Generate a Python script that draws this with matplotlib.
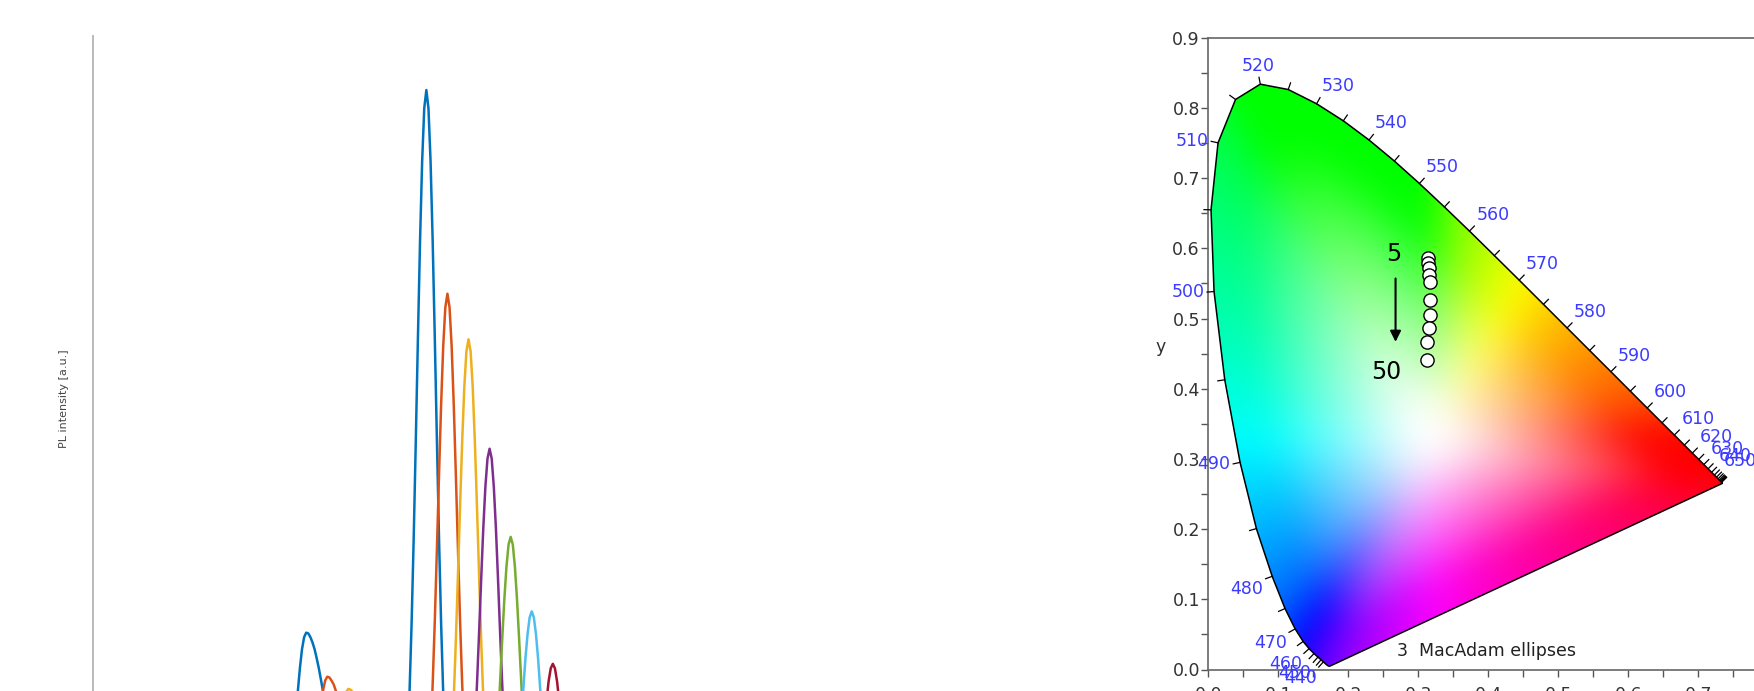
import numpy as np
import matplotlib
matplotlib.use("Agg")
import matplotlib.pyplot as plt
from matplotlib.patches import Polygon
from matplotlib.ticker import MultipleLocator, FormatStrFormatter

# ---------------------------------------------------------------- PL spectra
# every spectrum is sampled at 1 nm around its two emission bands:
# a weak band (19 samples) and the main band (21 samples)
pl_colors = ["#0072BD", "#D95319", "#EDB120", "#7E2F8E",
             "#77AC30", "#4DBEEE", "#A2142F"]
weak_start_nm = [456, 466, 476, 486, 496, 506, 516]
main_start_nm = [509, 519, 529, 539, 549, 559, 569]

weak_band = [
    [0.139, 0.174, 0.208, 0.239, 0.264, 0.280, 0.286, 0.285, 0.280, 0.273,
     0.264, 0.252, 0.239, 0.224, 0.208, 0.191, 0.174, 0.156, 0.139],
    [0.111, 0.138, 0.166, 0.190, 0.210, 0.223, 0.228, 0.227, 0.223, 0.218,
     0.210, 0.201, 0.190, 0.179, 0.166, 0.152, 0.138, 0.124, 0.111],
    [0.103, 0.129, 0.154, 0.177, 0.196, 0.208, 0.212, 0.211, 0.208, 0.203,
     0.196, 0.187, 0.177, 0.166, 0.154, 0.141, 0.129, 0.116, 0.103],
    [0.083, 0.103, 0.123, 0.142, 0.157, 0.167, 0.170, 0.169, 0.167, 0.163,
     0.157, 0.150, 0.142, 0.133, 0.123, 0.113, 0.103, 0.093, 0.083],
    [0.068, 0.085, 0.102, 0.117, 0.129, 0.137, 0.140, 0.139, 0.137, 0.134,
     0.129, 0.123, 0.117, 0.110, 0.102, 0.093, 0.085, 0.076, 0.068],
    [0.056, 0.070, 0.083, 0.096, 0.106, 0.113, 0.115, 0.114, 0.113, 0.110,
     0.106, 0.101, 0.096, 0.090, 0.083, 0.077, 0.070, 0.063, 0.056],
    [0.046, 0.058, 0.069, 0.079, 0.088, 0.093, 0.095, 0.095, 0.093, 0.091,
     0.088, 0.084, 0.079, 0.074, 0.069, 0.063, 0.058, 0.052, 0.046],
]
main_band = [
    [0.085, 0.135, 0.206, 0.298, 0.411, 0.540, 0.674, 0.801, 0.906, 0.976,
     1.000, 0.976, 0.906, 0.801, 0.674, 0.540, 0.411, 0.298, 0.206, 0.135, 0.085],
    [0.062, 0.099, 0.151, 0.218, 0.301, 0.395, 0.493, 0.586, 0.663, 0.714,
     0.732, 0.714, 0.663, 0.586, 0.493, 0.395, 0.301, 0.218, 0.151, 0.099, 0.062],
    [0.057, 0.091, 0.138, 0.200, 0.276, 0.363, 0.453, 0.538, 0.609, 0.656,
     0.672, 0.656, 0.609, 0.538, 0.453, 0.363, 0.276, 0.200, 0.138, 0.091, 0.057],
    [0.045, 0.071, 0.109, 0.157, 0.217, 0.285, 0.356, 0.423, 0.478, 0.515,
     0.528, 0.515, 0.478, 0.423, 0.356, 0.285, 0.217, 0.157, 0.109, 0.071, 0.045],
    [0.035, 0.056, 0.085, 0.123, 0.169, 0.222, 0.278, 0.330, 0.373, 0.402,
     0.412, 0.402, 0.373, 0.330, 0.278, 0.222, 0.169, 0.123, 0.085, 0.056, 0.035],
    [0.027, 0.042, 0.065, 0.094, 0.129, 0.170, 0.212, 0.252, 0.284, 0.306,
     0.314, 0.306, 0.284, 0.252, 0.212, 0.170, 0.129, 0.094, 0.065, 0.042, 0.027],
    [0.021, 0.033, 0.050, 0.073, 0.101, 0.132, 0.165, 0.196, 0.222, 0.239,
     0.245, 0.239, 0.222, 0.196, 0.165, 0.132, 0.101, 0.073, 0.050, 0.033, 0.021],
]

# ---------------------------------------------------------------- CIE 1931
locus_nm = list(range(380, 705, 5))
locus_x = [0.1741, 0.1740, 0.1738, 0.1736, 0.1733, 0.1730, 0.1726, 0.1721,
           0.1714, 0.1703, 0.1689, 0.1669, 0.1644, 0.1611, 0.1566, 0.1510,
           0.1440, 0.1355, 0.1241, 0.1096, 0.0913, 0.0687, 0.0454, 0.0235,
           0.0082, 0.0039, 0.0139, 0.0389, 0.0743, 0.1142, 0.1547, 0.1929,
           0.2296, 0.2658, 0.3016, 0.3373, 0.3731, 0.4087, 0.4441, 0.4788,
           0.5125, 0.5448, 0.5752, 0.6029, 0.6270, 0.6482, 0.6658, 0.6801,
           0.6915, 0.7006, 0.7079, 0.7140, 0.7190, 0.7230, 0.7260, 0.7283,
           0.7300, 0.7311, 0.7320, 0.7327, 0.7334, 0.7340, 0.7344, 0.7346,
           0.7347]
locus_y = [0.0050, 0.0050, 0.0049, 0.0049, 0.0048, 0.0048, 0.0048, 0.0048,
           0.0051, 0.0058, 0.0069, 0.0086, 0.0109, 0.0138, 0.0177, 0.0227,
           0.0297, 0.0399, 0.0578, 0.0868, 0.1327, 0.2007, 0.2950, 0.4127,
           0.5384, 0.6548, 0.7502, 0.8120, 0.8338, 0.8262, 0.8059, 0.7816,
           0.7543, 0.7243, 0.6923, 0.6589, 0.6245, 0.5896, 0.5547, 0.5202,
           0.4866, 0.4544, 0.4242, 0.3965, 0.3725, 0.3514, 0.3340, 0.3197,
           0.3083, 0.2993, 0.2920, 0.2859, 0.2809, 0.2770, 0.2740, 0.2717,
           0.2700, 0.2689, 0.2680, 0.2673, 0.2666, 0.2660, 0.2656, 0.2654,
           0.2653]
tick_nm = list(range(440, 685, 5))
label_nm = list(range(440, 660, 10))

# chromaticity of the samples (5 ... 50)
sample_x = [0.314, 0.314, 0.315, 0.315, 0.316, 0.317, 0.316, 0.315, 0.313, 0.312]
sample_y = [0.586, 0.579, 0.572, 0.562, 0.552, 0.526, 0.505, 0.487, 0.467, 0.441]

W, H = 1754, 691
fig = plt.figure(figsize=(W / 100, H / 100), dpi=100)
fig.patch.set_facecolor("white")

# ---------------------------------------------------------------- left panel
ax1 = fig.add_axes([93.3 / W, (H - 762) / H, 927.5 / W, (762 - 36) / H])
for k, col in enumerate(pl_colors):
    wl = np.concatenate([weak_start_nm[k] + np.arange(len(weak_band[k])),
                         main_start_nm[k] + np.arange(len(main_band[k]))])
    val = np.concatenate([weak_band[k], main_band[k]])
    ax1.plot(wl, val, color=col, lw=1.8, solid_joinstyle="round")
ax1.set_xlim(361, 801)
ax1.set_ylim(0.1158, 1.0711)
for side in ("top", "right", "bottom"):
    ax1.spines[side].set_visible(False)
ax1.spines["left"].set_color("#b4b4b4")
ax1.spines["left"].set_linewidth(1.3)
ax1.set_xticks([])
ax1.set_yticks([])
ax1.set_ylabel("PL intensity [a.u.]", fontsize=8, color="#444444")
ax1.yaxis.set_label_coords(-0.0316, 0.5)
ax1.yaxis.label.set_va("center")

# ---------------------------------------------------------------- CIE panel
ax2 = fig.add_axes([1208.3 / W, (H - 669.5) / H, 560 / W, (669.5 - 37.7) / H])
ax2.set_xlim(0, 0.8)
ax2.set_ylim(0, 0.9)

M = np.array([[3.2406, -1.5372, -0.4986],
              [-0.9689, 1.8758, 0.0415],
              [0.0557, -0.2040, 1.0570]])


def xy_to_display(px, py):
    """Saturated sRGB colour of a chromaticity (clipped, max-normalised)."""
    py = np.maximum(py, 1e-4)
    xyz = np.stack([px / py, np.ones_like(px), (1 - px - py) / py], axis=-1)
    rgb = np.clip(xyz @ M.T, 0, None)
    rgb /= np.maximum(rgb.max(axis=-1, keepdims=True), 1e-9)
    return np.where(rgb <= 0.0031308, 12.92 * rgb,
                    1.055 * rgb ** (1 / 2.4) - 0.055)


def box_blur(a, r, axis):
    pad = [(0, 0)] * a.ndim
    pad[axis] = (r + 1, r)
    p = np.pad(a, pad, mode="edge")
    c = np.cumsum(p, axis=axis)
    n = a.shape[axis]
    hi = np.take(c, np.arange(2 * r + 1, 2 * r + 1 + n), axis=axis)
    lo = np.take(c, np.arange(0, n), axis=axis)
    return (hi - lo) / (2 * r + 1)


lx = np.array(locus_x)
ly = np.array(locus_y)

# gamut boundary (spectral locus + line of purples), finely subdivided
ring = np.vstack([np.column_stack([lx, ly]), [[lx[0], ly[0]]]])
steps = np.linspace(0, 1, 60, endpoint=False)[:, None]
edge = np.vstack([a + (b - a) * steps for a, b in zip(ring[:-1], ring[1:])])

# shade every point by blending white with the hue found on the boundary
wx, wy = 0.32, 0.33
b_ang = np.arctan2(edge[:, 1] - wy, edge[:, 0] - wx)
b_rad = np.hypot(edge[:, 0] - wx, edge[:, 1] - wy)
b_col = xy_to_display(edge[:, 0], edge[:, 1])
order = np.argsort(b_ang)
b_ang, b_rad, b_col = b_ang[order], b_rad[order], b_col[order]
ang_ext = np.concatenate([b_ang - 2 * np.pi, b_ang, b_ang + 2 * np.pi])

gx = np.linspace(0, 0.8, 801)
gy = np.linspace(0, 0.9, 901)
GX, GY = np.meshgrid(gx, gy)
ang = np.arctan2(GY - wy, GX - wx)
rad = np.interp(ang, ang_ext, np.tile(b_rad, 3))
hue = np.stack([np.interp(ang, ang_ext, np.tile(b_col[:, c], 3))
                for c in range(3)], axis=-1)
sat = np.clip(np.hypot(GX - wx, GY - wy) / rad, 0, 1)
mix = np.clip(1.3 * sat - 0.1, 0, 1)[..., None]
shade = 1 - mix * (1 - hue)
# soften the radial seams between neighbouring hues
for _ in range(3):
    shade = box_blur(shade, 22, 0)
    shade = box_blur(shade, 22, 1)
shade = np.clip(shade, 0, 1)

img = ax2.imshow(shade, extent=(0, 0.8, 0, 0.9), origin="lower",
                 interpolation="bilinear", aspect="auto", zorder=1)
outline = Polygon(np.column_stack([lx, ly]), closed=True, facecolor="none",
                  edgecolor="black", lw=1.1, zorder=3, transform=ax2.transData)
ax2.add_patch(outline)
img.set_clip_path(outline)

tx = np.gradient(lx)
ty = np.gradient(ly)
tn = np.hypot(tx, ty)
nx, ny = -ty / tn, tx / tn

for wl in tick_nm:
    i = locus_nm.index(wl)
    ax2.plot([lx[i], lx[i] + 0.010 * nx[i]], [ly[i], ly[i] + 0.010 * ny[i]],
             color="black", lw=0.9, zorder=3, clip_on=False)

for wl in label_nm:
    i = locus_nm.index(wl)
    ha = "left" if nx[i] > 0.3 else ("right" if nx[i] < -0.3 else "center")
    va = "bottom" if ny[i] > 0.3 else ("top" if ny[i] < -0.3 else "center")
    ax2.text(lx[i] + 0.014 * nx[i], ly[i] + 0.014 * ny[i], str(wl),
             color="#3b3bff", fontsize=12.5, ha=ha, va=va, zorder=6)

ax2.plot(sample_x, sample_y, linestyle="none", marker="o", ms=9.5,
         mfc="white", mec="black", mew=1.0, zorder=5)
ax2.annotate("", xy=(0.2675, 0.4667), xytext=(0.2675, 0.557),
             arrowprops=dict(arrowstyle="-|>", color="black", lw=1.5,
                             mutation_scale=16, shrinkA=0, shrinkB=0),
             zorder=6)
ax2.text(0.2645, 0.5913, "5", fontsize=17, ha="center", va="center", color="black")
ax2.text(0.2547, 0.4242, "50", fontsize=17, ha="center", va="center", color="black")
ax2.text(0.269, 0.026, "3  MacAdam ellipses", fontsize=12.5, ha="left",
         va="center", color="#222222")

ax2.xaxis.set_major_locator(MultipleLocator(0.1))
ax2.xaxis.set_minor_locator(MultipleLocator(0.05))
ax2.yaxis.set_major_locator(MultipleLocator(0.1))
ax2.yaxis.set_minor_locator(MultipleLocator(0.05))
ax2.xaxis.set_major_formatter(FormatStrFormatter("%.1f"))
ax2.yaxis.set_major_formatter(FormatStrFormatter("%.1f"))
ax2.tick_params(axis="both", which="both", direction="out", length=5,
                width=1, color="#555555", labelsize=12.5, labelcolor="#333333")
ax2.tick_params(axis="x", which="major", pad=7)
ax2.tick_params(axis="y", which="major", pad=1)
for side in ("left", "top", "bottom", "right"):
    ax2.spines[side].set_color("#666666")
    ax2.spines[side].set_linewidth(1.2)
ax2.set_ylabel("y", rotation=0, fontsize=12.5, color="#333333")
ax2.yaxis.set_label_coords(-0.086, 0.51)
ax2.yaxis.label.set_va("center")
ax2.yaxis.label.set_ha("center")

fig.savefig("out.png", dpi=100, facecolor="white")
